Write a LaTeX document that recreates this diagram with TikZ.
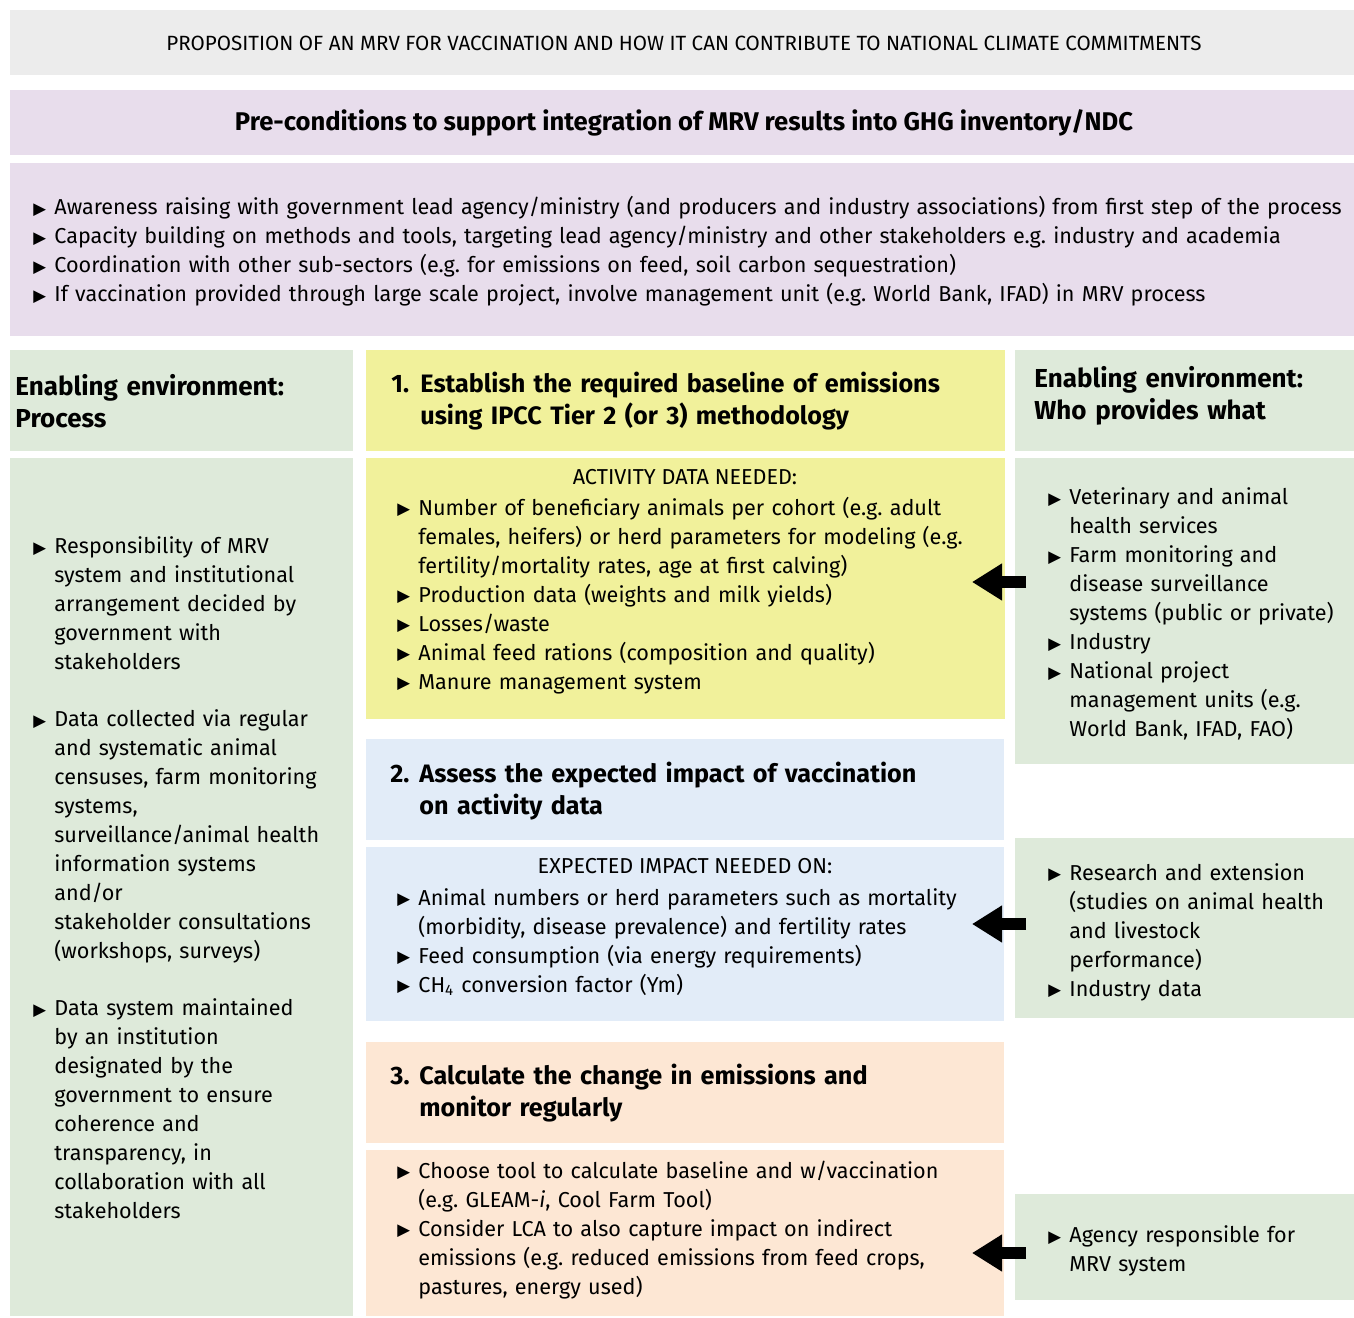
\documentclass[tikz,border=0pt]{standalone}
\usepackage{fontspec}
\setmainfont{Fira Sans}
\newfontfamily\symfont{DejaVu Sans}
\usetikzlibrary{arrows.meta}
\frenchspacing

\definecolor{titlegray}{HTML}{ECECEC}
\definecolor{precol}{HTML}{E8DDEC}
\definecolor{envgreen}{HTML}{DEEADA}
\definecolor{stepyellow}{HTML}{F1F19B}
\definecolor{stepblue}{HTML}{E2ECF8}
\definecolor{steppeach}{HTML}{FDE7D4}

\newcommand{\bodyfont}{\fontsize{10.8}{14.5}\selectfont}
\newcommand{\headfont}{\fontsize{12.6}{16}\selectfont\bfseries}
\newcommand{\envfont}{\fontsize{13}{16}\selectfont\bfseries}
\newcommand{\tri}{\raisebox{0.3pt}{\symfont\fontsize{8.3}{8.3}\selectfont ▶}}
\newcommand{\bitem}[1]{\par\noindent\hangindent=10.5pt\hangafter=1\makebox[10.5pt][l]{\tri}#1\par}
\newcommand{\numhead}[2]{\noindent\hangindent=14.5pt\hangafter=1\makebox[14.5pt][l]{#1}#2\par}

\begin{document}
\begin{tikzpicture}[x=0.5pt,y=-0.5pt,
  panel/.style={fill=#1, inner sep=0pt, anchor=north west},
  txt/.style={anchor=west, inner sep=0pt, align=left, text width=#1, font=\bodyfont},
  head/.style={anchor=west, inner sep=0pt, align=left, text width=#1, font=\headfont},
  fatarrow/.style={line width=6pt, -{Triangle[length=15pt,width=17.5pt]}}]

\useasboundingbox (0,0) rectangle (1354,1317);

% top banners
\node[panel=titlegray, minimum width=672pt, minimum height=32.5pt] (title) at (10,10) {};
\node[panel=precol, minimum width=672pt, minimum height=32.5pt] (prehead) at (10,90) {};
\node[panel=precol, minimum width=672pt, minimum height=86.5pt] (prebody) at (10,163) {};

% left column
\node[panel=envgreen, minimum width=171.5pt, minimum height=50.5pt] (prochead) at (10,350) {};
\node[panel=envgreen, minimum width=171.5pt, minimum height=429pt] (procbody) at (10,458) {};

% middle column
\node[panel=stepyellow, minimum width=319.5pt, minimum height=50.5pt] (head1) at (366,350) {};
\node[panel=stepyellow, minimum width=319.5pt, minimum height=130.5pt] (body1) at (366,458) {};
\node[panel=stepblue, minimum width=319pt, minimum height=50.5pt] (head2) at (366,739) {};
\node[panel=stepblue, minimum width=319pt, minimum height=87pt] (body2) at (366,847) {};
\node[panel=steppeach, minimum width=319pt, minimum height=50.5pt] (head3) at (366,1042) {};
\node[panel=steppeach, minimum width=319pt, minimum height=83pt] (body3) at (366,1150) {};

% right column
\node[panel=envgreen, minimum width=169.5pt, minimum height=50.5pt] (whohead) at (1015,350) {};
\node[panel=envgreen, minimum width=169.5pt, minimum height=153pt] (who1) at (1015,458) {};
\node[panel=envgreen, minimum width=169.5pt, minimum height=90pt] (who2) at (1015,838) {};
\node[panel=envgreen, minimum width=169.5pt, minimum height=53pt] (who3) at (1015,1194) {};

% texts
\node[inner sep=0pt, font=\fontsize{10.3}{12}\selectfont] (titletxt) at (684,43)
  {PROPOSITION OF AN MRV FOR VACCINATION AND HOW IT CAN CONTRIBUTE TO NATIONAL CLIMATE COMMITMENTS};
\node[inner sep=0pt, font=\fontsize{12.8}{15}\selectfont\bfseries] (pretxt) at (684,123)
  {Pre-conditions to support integration of MRV results into GHG inventory/NDC};
\node[txt=662pt] (prelist) at (33,246) {%
  \bitem{Awareness raising with government lead agency/ministry (and producers and industry associations) from first step of the process}
  \bitem{Capacity building on methods and tools, targeting lead agency/ministry and other stakeholders e.g. industry and academia}
  \bitem{Coordination with other sub-sectors (e.g. for emissions on feed, soil carbon sequestration)}
  \bitem{If vaccination provided through large scale project, involve management unit (e.g. World Bank, IFAD) in MRV process}};

\node[head=165pt, font=\envfont] (proctxt) at (15,401) {Enabling environment:\newline Process};
\node[txt=162pt] (proclist) at (33,872) {%
  \bitem{Responsibility of MRV\newline system and institutional\newline arrangement decided by\newline government with\newline stakeholders}
  \vspace{14pt}
  \bitem{Data collected via regular\newline and systematic animal\newline censuses, farm monitoring\newline systems,\newline surveillance/animal health\newline information systems\newline and/or\newline stakeholder consultations\newline (workshops, surveys)}
  \vspace{14pt}
  \bitem{Data system maintained\newline by an institution\newline designated by the\newline government to ensure\newline coherence and\newline transparency, in\newline collaboration with all\newline stakeholders}};

\node[head=300pt] (step1) at (391,401) {\numhead{1.}{Establish the required baseline of emissions\newline using IPCC Tier 2 (or 3) methodology}};
\node[inner sep=0pt, font=\bodyfont] (need1) at (685,477) {ACTIVITY DATA NEEDED:};
\node[txt=304pt] (list1) at (397,590) {%
  \bitem{Number of beneficiary animals per cohort (e.g. adult\newline females, heifers) or herd parameters for modeling (e.g.\newline fertility/mortality rates, age at first calving)}
  \bitem{Production data (weights and milk yields)}
  \bitem{Losses/waste}
  \bitem{Animal feed rations (composition and quality)}
  \bitem{Manure management system}};

\node[head=300pt] (step2) at (390,791) {\numhead{2.}{Assess the expected impact of vaccination\newline on activity data}};
\node[inner sep=0pt, font=\bodyfont] (need2) at (685,866) {EXPECTED IMPACT NEEDED ON:};
\node[txt=304pt] (list2) at (397,936) {%
  \bitem{Animal numbers or herd parameters such as mortality\newline (morbidity, disease prevalence) and fertility rates}
  \bitem{Feed consumption (via energy requirements)}
  \bitem{CH\textsubscript{4} conversion factor (Ym)}};

\node[head=300pt] (step3) at (390,1093) {\numhead{3.}{Calculate the change in emissions and\newline monitor regularly}};
\node[txt=304pt] (list3) at (397,1224) {%
  \bitem{Choose tool to calculate baseline and w/vaccination\newline (e.g. GLEAM-\textit{i}, Cool Farm Tool)}
  \bitem{Consider LCA to also capture impact on indirect\newline emissions (e.g. reduced emissions from feed crops,\newline pastures, energy used)}};

\node[head=160pt, font=\envfont] (whotxt) at (1034,396) {Enabling environment:\newline Who provides what};
\node[txt=153pt] (wholist1) at (1048,608) {%
  \bitem{Veterinary and animal\newline health services}
  \bitem{Farm monitoring and\newline disease surveillance\newline systems (public or private)}
  \bitem{Industry}
  \bitem{National project\newline management units (e.g.\newline World Bank, IFAD, FAO)}};
\node[txt=153pt] (wholist2) at (1048,926) {%
  \bitem{Research and extension\newline (studies on animal health\newline and livestock\newline performance)}
  \bitem{Industry data}};
\node[txt=153pt] (wholist3) at (1048,1245) {%
  \bitem{Agency responsible for\newline MRV system}};

% arrows
\coordinate (from1) at (1026,582);
\coordinate (to1) at (972,582);
\coordinate (from2) at (1026,924);
\coordinate (to2) at (972,924);
\coordinate (from3) at (1026,1253);
\coordinate (to3) at (972,1253);
\draw[fatarrow] (from1) -- (to1);
\draw[fatarrow] (from2) -- (to2);
\draw[fatarrow] (from3) -- (to3);

\end{tikzpicture}
\end{document}
